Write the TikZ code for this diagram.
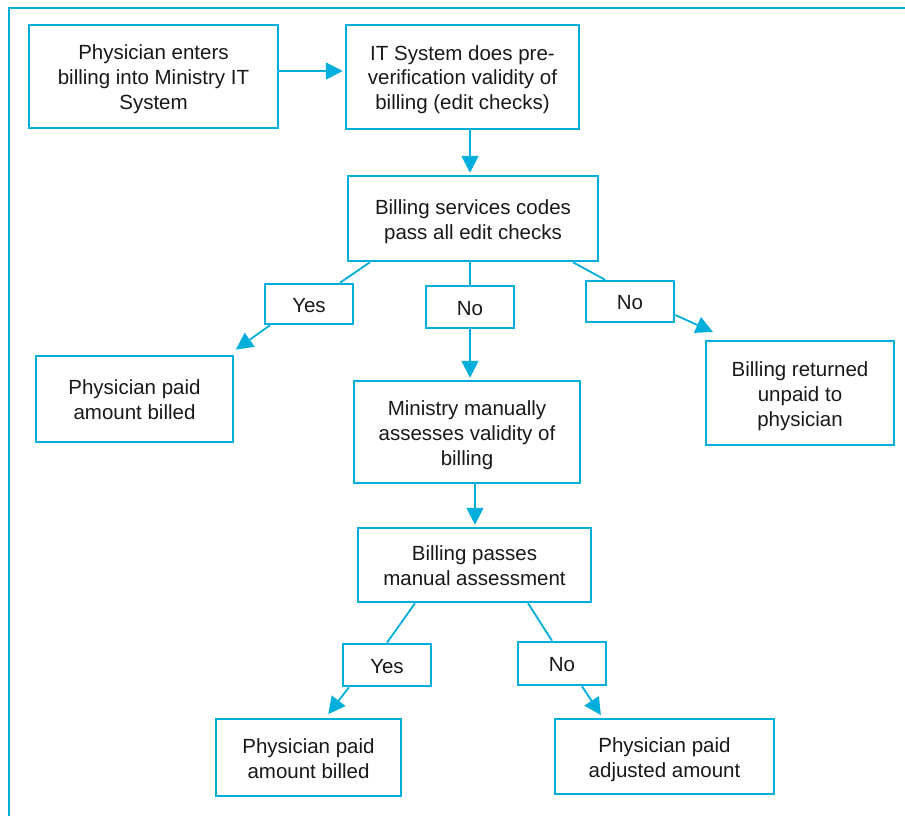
\documentclass[tikz,border=0pt]{standalone}
\usepackage{fontspec}
\setmainfont{Liberation Sans}
\usetikzlibrary{arrows.meta}
\definecolor{cy}{RGB}{0,174,219}
\definecolor{tx}{RGB}{25,25,25}
\newcommand\boxtxt[1]{\raisebox{-3pt}[\height][\depth]{\begin{tabular}{@{}c@{}}#1\end{tabular}}}
\tikzset{
  box/.style={draw=cy,line width=2.5pt,fill=white,inner sep=0pt,text=tx,
    font=\fontsize{20.5}{25}\selectfont},
  conn/.style={draw=cy,line width=1.8pt},
  arr/.style={conn,-{Triangle[length=17pt,width=17pt]},shorten >=2pt},
}
\begin{document}
\begin{tikzpicture}[x=1pt,y=1pt]
\useasboundingbox (0,0) rectangle (905,-816);
\draw[cy,line width=2.5pt] (9,-820) -- (9,-8) -- (910,-8);
\node[box,minimum width=249pt,minimum height=103pt] (A) at (153.5,-76.5) {\boxtxt{Physician enters\\billing into Ministry IT\\System}};
\node[box,minimum width=233pt,minimum height=104pt] (B) at (462.5,-77) {\boxtxt{IT System does pre-\\verification validity of\\billing (edit checks)}};
\node[box,minimum width=250pt,minimum height=85pt] (C) at (473,-218.5) {\boxtxt{Billing services codes\\pass all edit checks}};
\node[box,minimum width=88pt,minimum height=40pt] (Y1) at (309,-304) {\boxtxt{Yes}};
\node[box,minimum width=88pt,minimum height=42pt] (N1) at (470,-307) {\boxtxt{No}};
\node[box,minimum width=88pt,minimum height=41pt] (N2) at (630,-301.5) {\boxtxt{No}};
\node[box,minimum width=197pt,minimum height=86pt] (D) at (134.5,-399) {\boxtxt{Physician paid\\amount billed}};
\node[box,minimum width=226pt,minimum height=102pt] (E) at (467,-432) {\boxtxt{Ministry manually\\assesses validity of\\billing}};
\node[box,minimum width=188pt,minimum height=104pt] (F) at (800,-393) {\boxtxt{Billing returned\\unpaid to\\physician}};
\node[box,minimum width=233pt,minimum height=74pt] (G) at (474.5,-565) {\boxtxt{Billing passes\\manual assessment}};
\node[box,minimum width=88pt,minimum height=42pt] (Y2) at (387,-665) {\boxtxt{Yes}};
\node[box,minimum width=88pt,minimum height=43pt] (N3) at (562,-663.5) {\boxtxt{No}};
\node[box,minimum width=185pt,minimum height=77pt] (H) at (308.5,-757.5) {\boxtxt{Physician paid\\amount billed}};
\node[box,minimum width=219pt,minimum height=75pt] (I) at (664.5,-756.5) {\boxtxt{Physician paid\\adjusted amount}};

\draw[arr] ([yshift=5.5pt]A.east) -- ([yshift=5.5pt]A.east -| B.west);
\draw[arr] ([xshift=7.5pt]B.south) -- ([xshift=-3pt]C.north);
\draw[conn] ([xshift=-103pt]C.south) -- ([xshift=31pt]Y1.north);
\draw[arr] ([xshift=-39pt]Y1.south) -- ([yshift=4pt]D.north east);
\draw[conn] (N1.north |- C.south) -- (N1.north);
\draw[arr] (N1.south) -- (N1.south |- E.north);
\draw[conn] ([xshift=100pt]C.south) -- ([xshift=-25pt]N2.north);
\draw[arr] ([yshift=-13.5pt]N2.east) -- ([xshift=10pt,yshift=7pt]F.north west);
\draw[arr] ([xshift=8pt]E.south) -- ([xshift=0.5pt]G.north);
\draw[conn] ([xshift=-59.5pt]G.south) -- (Y2.north);
\draw[arr] ([xshift=-38pt]Y2.south) -- ([xshift=18.5pt,yshift=2pt]H.north);
\draw[conn] ([xshift=53.5pt]G.south) -- ([xshift=-10pt]N3.north);
\draw[arr] ([xshift=20pt]N3.south) -- ([xshift=-62.5pt,yshift=1pt]I.north);
\end{tikzpicture}
\end{document}
